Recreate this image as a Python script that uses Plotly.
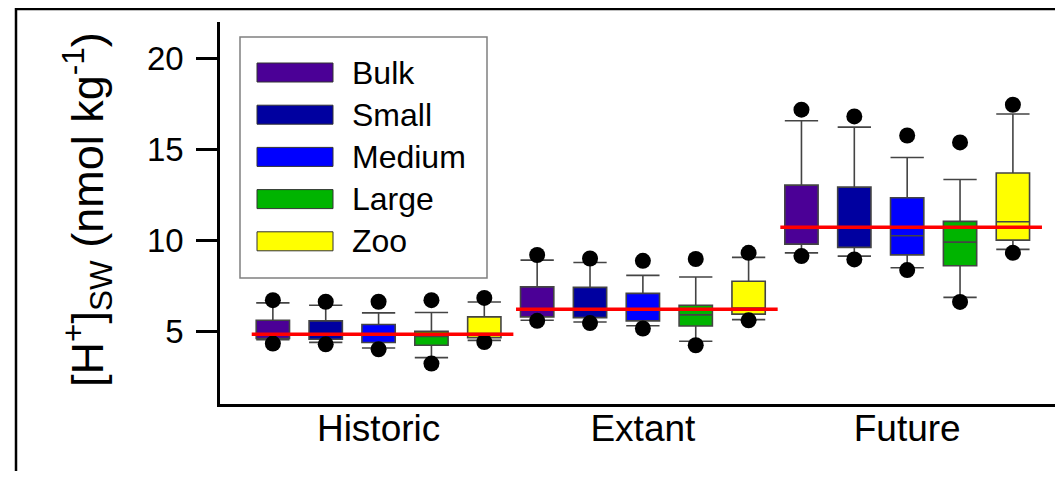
import plotly.graph_objects as go

groups = ["Historic", "Extant", "Future"]
sizes = ["Bulk", "Small", "Medium", "Large", "Zoo"]
colors = ["#4B0096", "#0000A0", "#0000FF", "#00B400", "#FFFF00"]

# per size class, values for Historic, Extant, Future
upper_pt = {
    "Bulk": [6.71, 9.19, 17.18], "Small": [6.62, 9.00, 16.81], "Medium": [6.62, 8.87, 15.76],
    "Large": [6.71, 8.97, 15.38], "Zoo": [6.83, 9.31, 17.45]}
upper_cap = {
    "Bulk": [6.56, 8.91, 16.57], "Small": [6.43, 8.78, 16.22], "Medium": [6.01, 8.07, 14.55],
    "Large": [6.03, 7.98, 13.34], "Zoo": [6.61, 9.06, 16.94]}
q3 = {
    "Bulk": [5.60, 7.44, 13.03], "Small": [5.57, 7.41, 12.92], "Medium": [5.37, 7.08, 12.34],
    "Large": [5.00, 6.43, 11.04], "Zoo": [5.79, 7.75, 13.70]}
median = {
    "Bulk": [4.85, 6.20, 10.65], "Small": [4.85, 6.22, 10.70], "Medium": [4.85, 6.20, 10.25],
    "Large": [4.72, 5.90, 9.90], "Zoo": [4.87, 6.28, 11.02]}
q1 = {
    "Bulk": [4.60, 5.79, 9.79], "Small": [4.56, 5.75, 9.61], "Medium": [4.38, 5.57, 9.20],
    "Large": [4.23, 5.29, 8.60], "Zoo": [4.65, 5.94, 10.01]}
lower_cap = {
    "Bulk": [4.54, 5.60, 9.31], "Small": [4.39, 5.51, 9.13], "Medium": [4.08, 5.30, 8.49],
    "Large": [3.55, 4.45, 6.86], "Zoo": [4.50, 5.64, 9.50]}
lower_pt = {
    "Bulk": [4.32, 5.57, 9.13], "Small": [4.28, 5.45, 8.95], "Medium": [4.01, 5.15, 8.36],
    "Large": [3.22, 4.23, 6.61], "Zoo": [4.41, 5.60, 9.31]}
group_mean = [4.84, 6.21, 10.71]
y_ticks = [5, 10, 15, 20]

FONT = "Liberation Sans, Arial, Helvetica, sans-serif"
OFF = 8  # page body margin
W, H = 1063 - OFF, 478 - OFF
L, R, T, B = 220, 1063, 22, 404   # plot area in page pixels
PW, PH = R - L, B - T


def px(x):
    return (x - L) / PW


def py(y):
    return (B - y) / PH


fig = go.Figure()
ng = len(groups)
ns = len(sizes)
for s, name in enumerate(sizes):
    xs = [g * ns + s + 1 for g in range(ng)]
    fig.add_trace(go.Box(
        x=xs, q1=q1[name], median=median[name], q3=q3[name],
        lowerfence=lower_cap[name], upperfence=upper_cap[name],
        width=0.63, whiskerwidth=1.0,
        fillcolor=colors[s], line=dict(color="#444444", width=1.6),
        boxpoints=False, name=name, showlegend=False, hoverinfo="skip"))

pt_x, pt_y = [], []
for s, name in enumerate(sizes):
    for g in range(ng):
        pt_x += [g * ns + s + 1] * 2
        pt_y += [upper_pt[name][g], lower_pt[name][g]]
fig.add_trace(go.Scatter(x=pt_x, y=pt_y, mode="markers",
                         marker=dict(color="black", size=16, line=dict(width=0)),
                         showlegend=False, hoverinfo="skip"))

for g in range(ng):
    fig.add_trace(go.Scatter(x=[g * ns + 0.6, g * ns + 5.55], y=[group_mean[g]] * 2,
                             mode="lines", line=dict(color="#FF0000", width=3.5),
                             showlegend=False, hoverinfo="skip"))

shapes = []
# outer frame (cropped figure border)
shapes.append(dict(type="line", xref="paper", yref="paper", x0=px(16), x1=px(16),
                   y0=py(8), y1=py(471), line=dict(color="black", width=2.5)))
shapes.append(dict(type="line", xref="paper", yref="paper", x0=px(15), x1=px(1063),
                   y0=py(9), y1=py(9), line=dict(color="black", width=2.5)))
# legend box
shapes.append(dict(type="rect", xref="paper", yref="paper", x0=px(240), x1=px(487),
                   y0=py(37), y1=py(278), line=dict(color="#808080", width=1.5),
                   fillcolor="white", layer="below"))
annotations = []
for s, name in enumerate(sizes):
    cy = 72.5 + s * 42.2
    shapes.append(dict(type="rect", xref="paper", yref="paper", x0=px(257), x1=px(333),
                       y0=py(cy - 9.5), y1=py(cy + 9.5), fillcolor=colors[s],
                       line=dict(color="#333333", width=1)))
    annotations.append(dict(xref="paper", yref="paper", x=px(350), y=py(cy), text=name,
                            showarrow=False, xanchor="left", yanchor="middle",
                            font=dict(family=FONT, size=32, color="black")))

annotations.append(dict(xref="paper", yref="paper", x=px(87), y=py(210),
                        text="[H<sup>+</sup>]<sub>SW</sub> (nmol kg<sup>-1</sup>)",
                        textangle=-90, showarrow=False, xanchor="center", yanchor="middle",
                        font=dict(family=FONT, size=45, color="black")))

fig.update_layout(
    width=W, height=H, margin=dict(l=L - OFF, r=1063 - R, t=T - OFF, b=478 - B),
    paper_bgcolor="white", plot_bgcolor="white",
    shapes=shapes, annotations=annotations, showlegend=False,
    xaxis=dict(range=[0, PW / 52.86], tickvals=[g * ns + 3 for g in range(ng)],
               ticktext=groups, ticks="", showgrid=False, zeroline=False,
               showline=True, linecolor="black", linewidth=2.5, ticklabelstandoff=-10,
               tickfont=dict(family=FONT, size=37, color="black")),
    yaxis=dict(range=[1, 22], tickvals=y_ticks, ticks="outside", ticklen=21, tickwidth=2.5,
               tickcolor="black", showgrid=False, zeroline=False, ticklabelstandoff=6,
               showline=True, linecolor="black", linewidth=2.5,
               tickfont=dict(family=FONT, size=33, color="black")),
)

fig.write_html("out.html")
